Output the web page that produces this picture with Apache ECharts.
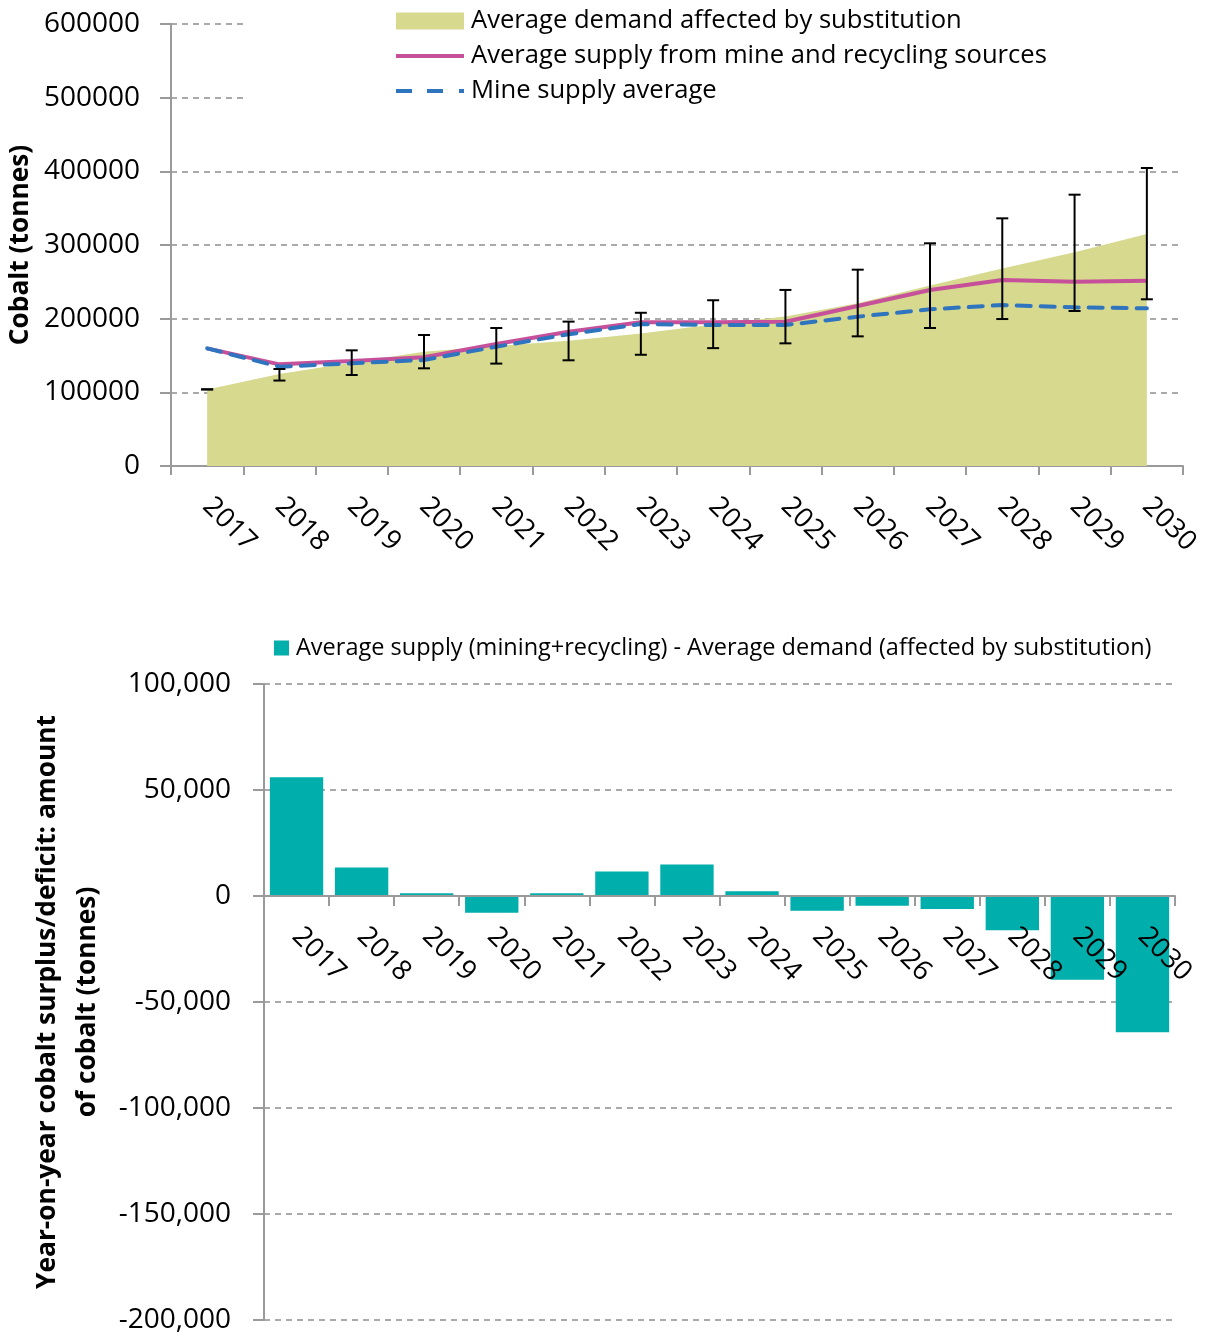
<!DOCTYPE html>
<html>
<head>
<meta charset="utf-8">
<script src="https://cdn.jsdelivr.net/npm/echarts@6/dist/echarts.min.js"></script>
<style>
html,body{margin:0;padding:0;background:#fff;}
#chart{width:1207px;height:1336px;}
</style>
</head>
<body>
<div id="chart"></div>
<script>
const years = ['2017','2018','2019','2020','2021','2022','2023','2024','2025','2026','2027','2028','2029','2030'];
const demandAvg = [104000,125000,140000,155000,163000,170000,180000,192000,203000,221000,245000,268000,290000,315000];
const demandLow = [104000,116000,123500,132600,139000,143500,151000,160000,166500,176000,187300,199500,210400,226300];
const demandHigh = [104000,131700,157000,177800,187300,196000,208000,225000,239000,266500,302300,336200,368300,404500];
const supplyAvg = [159700,138000,142500,147500,165600,182300,195000,195000,195900,217200,238900,252500,250200,251600];
const mineAvg = [159700,134800,139400,143900,162000,178800,192700,191400,191400,202700,212700,218500,215400,214000];
const surplus = [56000,13500,1300,-7900,1300,11500,14900,2200,-6900,-4600,-6100,-16200,-39500,-64300];

const FONT = 'Open Sans';
const gridLine = {show:true, lineStyle:{color:'#8f8f8f', type:[6,5], width:1.5}};
const axisGray = '#9a9a9a';
const C_AREA = '#d6d98e', C_PINK = '#c7509a', C_BLUE = '#2f74be', C_TEAL = '#00aeac';

const errData = years.map((y,i)=>[i, demandLow[i], demandHigh[i]]);

const chart = echarts.init(document.getElementById('chart'), null, {renderer:'canvas'});
chart.setOption({
  backgroundColor:'#fff',
  textStyle:{fontFamily:FONT},
  animation:false,
  legend:[{
    orient:'vertical',
    left:245, top:0,
    padding:[8,150,6,151],
    backgroundColor:'#fff',
    itemWidth:68, itemHeight:17, itemGap:9,
    symbolKeepAspect:true,
    textStyle:{fontFamily:FONT, fontSize:25.6, color:'#000', lineHeight:24, padding:[0,0,0,2]},
    data:[
      {name:'Average demand affected by substitution', icon:'rect', itemStyle:{color:C_AREA}},
      {name:'Average supply from mine and recycling sources', icon:'path://M0,0H68V4H0Z', itemStyle:{color:C_PINK}},
      {name:'Mine supply average', icon:'path://M0,0H16V4H0Z M31,0H47V4H31Z M63,0H68V4H63Z', itemStyle:{color:C_BLUE}}
    ]
  },{
    left:269, top:631,
    itemWidth:15, itemHeight:15,
    textStyle:{fontFamily:FONT, fontSize:23.5, color:'#000', lineHeight:24, padding:[0,0,0,2]},
    data:[{name:'Average supply (mining+recycling) - Average demand (affected by substitution)', icon:'rect', itemStyle:{color:C_TEAL}}]
  }],
  grid:[
    {left:171, right:24, top:24, height:442, containLabel:false, outerBoundsMode:'none'},
    {left:264, right:32, top:684, height:636, containLabel:false, outerBoundsMode:'none'}
  ],
  xAxis:[{
    gridIndex:0, type:'category', data:years, boundaryGap:true,
    axisLine:{lineStyle:{color:axisGray, width:2}},
    axisTick:{show:true, length:9, lineStyle:{color:axisGray, width:2}},
    axisLabel:{rotate:-45, margin:36, fontSize:27.5, color:'#000', fontFamily:FONT, interval:0},
    splitLine:{show:false}
  },{
    gridIndex:1, type:'category', data:years, boundaryGap:true, position:'bottom', offset:-424, z:10,
    axisLine:{onZero:false, lineStyle:{color:axisGray, width:2}},
    axisTick:{show:true, length:10, lineStyle:{color:axisGray, width:2}},
    axisLabel:{rotate:-45, margin:36, fontSize:27.5, color:'#000', fontFamily:FONT, interval:0},
    splitLine:{show:false}
  }],
  yAxis:[{
    gridIndex:0, type:'value', min:0, max:600000, interval:100000,
    name:'Cobalt (tonnes)', nameLocation:'middle', nameGap:130, nameRotate:90,
    nameTextStyle:{fontFamily:FONT, fontWeight:'bold', fontSize:26.3, color:'#000'},
    axisLine:{show:true, lineStyle:{color:axisGray, width:2}},
    axisTick:{show:true, length:11, lineStyle:{color:axisGray, width:2}},
    axisLabel:{margin:31, fontSize:28, color:'#000', fontFamily:FONT, formatter:v=>String(v)},
    splitLine:gridLine
  },{
    gridIndex:1, type:'value', min:-200000, max:100000, interval:50000,
    name:'Year-on-year cobalt surplus/deficit: amount\nof cobalt (tonnes)', nameLocation:'middle', nameGap:146, nameRotate:90,
    nameTextStyle:{fontFamily:FONT, fontWeight:'bold', fontSize:26.3, color:'#000', lineHeight:40},
    axisLine:{show:true, lineStyle:{color:axisGray, width:2}},
    axisTick:{show:true, length:11, lineStyle:{color:axisGray, width:2}},
    axisLabel:{margin:33, fontSize:28, color:'#000', fontFamily:FONT, formatter:v=>v.toLocaleString('en-US')},
    splitLine:gridLine
  }],
  series:[{
    name:'Average demand affected by substitution', type:'line', xAxisIndex:0, yAxisIndex:0,
    data:demandAvg, symbol:'none', lineStyle:{width:0, color:C_AREA},
    itemStyle:{color:C_AREA},
    areaStyle:{color:C_AREA, opacity:1}, z:1
  },{
    name:'Average supply from mine and recycling sources', type:'line', xAxisIndex:0, yAxisIndex:0,
    data:supplyAvg, symbol:'none', lineStyle:{width:4, color:C_PINK}, itemStyle:{color:C_PINK}, z:3
  },{
    name:'Mine supply average', type:'line', xAxisIndex:0, yAxisIndex:0,
    data:mineAvg, symbol:'none', lineStyle:{width:4, color:C_BLUE, type:[14,10], cap:'round'}, itemStyle:{color:C_BLUE}, z:4
  },{
    name:'errbars', type:'custom', xAxisIndex:0, yAxisIndex:0, data:errData, z:5,
    encode:{x:0, y:[1,2]},
    renderItem:function(params, api){
      const lo = api.coord([api.value(0), api.value(1)]);
      const hi = api.coord([api.value(0), api.value(2)]);
      const hw = 6;
      const st = {stroke:'#000', lineWidth:2};
      return {type:'group', children:[
        {type:'line', shape:{x1:lo[0], y1:lo[1], x2:hi[0], y2:hi[1]}, style:st},
        {type:'line', shape:{x1:lo[0]-hw, y1:lo[1], x2:lo[0]+hw, y2:lo[1]}, style:st},
        {type:'line', shape:{x1:hi[0]-hw, y1:hi[1], x2:hi[0]+hw, y2:hi[1]}, style:st}
      ]};
    }
  },{
    name:'Average supply (mining+recycling) - Average demand (affected by substitution)', type:'bar',
    xAxisIndex:1, yAxisIndex:1, data:surplus, barCategoryGap:'18%',
    itemStyle:{color:C_TEAL}
  }]
});
</script>
</body>
</html>
